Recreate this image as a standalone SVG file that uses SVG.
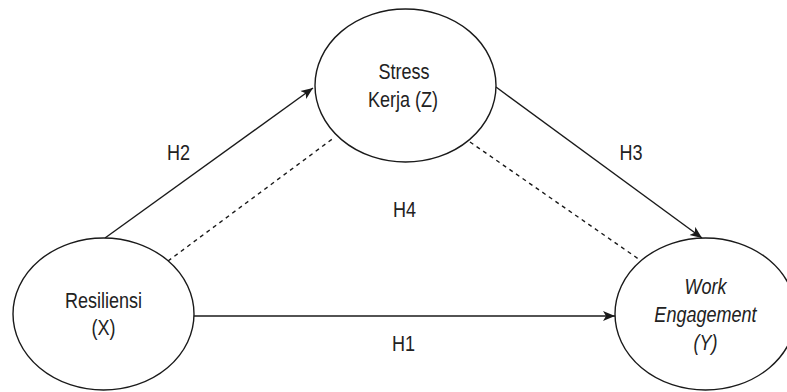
<svg xmlns="http://www.w3.org/2000/svg" width="787" height="392" viewBox="0 0 787 392">
  <style>
    .node { fill: #ffffff; stroke: #1a1a1a; stroke-width: 1.4; }
    .edge { fill: none; stroke: #1a1a1a; stroke-width: 1.4; }
    .dash { stroke-dasharray: 4 4; }
    .lbl { font-family: "Liberation Sans", Arial, sans-serif; font-size: 22px; fill: #222222; text-anchor: middle; }
    .it { font-style: italic; }
  </style>
  <defs>
    <marker id="arrow" markerUnits="userSpaceOnUse" markerWidth="14" markerHeight="12" refX="12" refY="5" orient="auto" viewBox="0 0 14 10">
      <path d="M0,0 L12,5 L0,10 L3,5 Z" fill="#1a1a1a"/>
    </marker>
  </defs>
  <rect width="787" height="392" fill="#ffffff"/>

  <g id="connectors">
    <line class="edge" x1="105" y1="238" x2="313" y2="88" marker-end="url(#arrow)"/>
    <line class="edge" x1="496" y1="87" x2="702" y2="238" marker-end="url(#arrow)"/>
    <line class="edge" x1="194" y1="316" x2="615" y2="316" marker-end="url(#arrow)"/>
    <line class="edge dash" x1="168" y1="261" x2="335" y2="137"/>
    <line class="edge dash" x1="470" y1="142" x2="640" y2="260"/>
  </g>

  <g id="stress">
    <ellipse class="node" cx="405.5" cy="85.5" rx="90.5" ry="76.5"/>
    <text class="lbl" transform="translate(404 0) scale(0.82 1)" x="0" y="79">Stress</text>
    <text class="lbl" transform="translate(403 0) scale(0.82 1)" x="0" y="107">Kerja (Z)</text>
  </g>

  <g id="resiliensi">
    <ellipse class="node" cx="103.5" cy="314" rx="90.5" ry="76"/>
    <text class="lbl" transform="translate(103.5 0) scale(0.82 1)" x="0" y="308">Resiliensi</text>
    <text class="lbl" transform="translate(103.5 0) scale(0.82 1)" x="0" y="335">(X)</text>
  </g>

  <g id="work">
    <ellipse class="node" cx="705.5" cy="314" rx="90.5" ry="76"/>
    <text class="lbl it" transform="translate(705.5 0) scale(0.82 1)" x="0" y="294">Work</text>
    <text class="lbl it" transform="translate(705.5 0) scale(0.82 1)" x="0" y="322">Engagement</text>
    <text class="lbl it" transform="translate(705.5 0) scale(0.82 1)" x="0" y="350">(Y)</text>
  </g>

  <g id="labels">
    <text class="lbl" transform="translate(178.5 0) scale(0.82 1)" x="0" y="160">H2</text>
    <text class="lbl" transform="translate(631 0) scale(0.82 1)" x="0" y="160">H3</text>
    <text class="lbl" transform="translate(404.5 0) scale(0.82 1)" x="0" y="217">H4</text>
    <text class="lbl" transform="translate(403.5 0) scale(0.82 1)" x="0" y="351">H1</text>
  </g>
</svg>
